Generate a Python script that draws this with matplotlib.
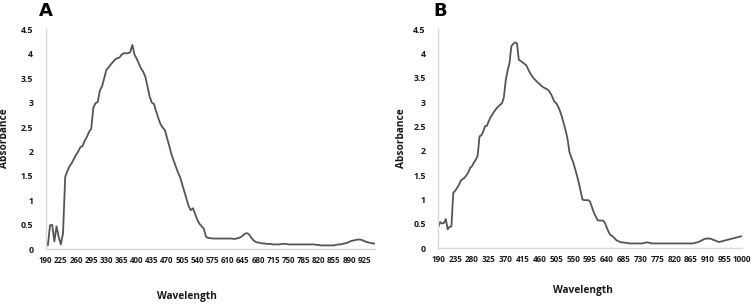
import numpy as np
import matplotlib
matplotlib.use("Agg")
import matplotlib.pyplot as plt

# ---------------- Data ----------------
wavelength_a = list(range(190, 955, 5))
absorbance_a = [
    0.19, 0.08, 0.49, 0.50, 0.16, 0.47, 0.25, 0.10, 0.33, 1.48,   # 190-235
    1.60, 1.70, 1.76, 1.85, 1.93, 2.00, 2.09, 2.11, 2.22, 2.30,   # 240-285
    2.40, 2.46, 2.90, 2.99, 3.01, 3.25, 3.33, 3.50, 3.67, 3.72,   # 290-335
    3.78, 3.83, 3.88, 3.91, 3.92, 3.98, 4.01, 4.01, 4.01, 4.03,   # 340-385
    4.18, 3.98, 3.90, 3.80, 3.70, 3.63, 3.53, 3.33, 3.12, 3.00,   # 390-435
    2.97, 2.82, 2.68, 2.56, 2.49, 2.44, 2.28, 2.12, 1.95, 1.82,   # 440-485
    1.70, 1.58, 1.48, 1.33, 1.18, 1.03, 0.88, 0.80, 0.84, 0.72,   # 490-535
    0.60, 0.52, 0.47, 0.42, 0.26, 0.23, 0.23, 0.22, 0.22, 0.22,   # 540-585
    0.22, 0.22, 0.22, 0.22, 0.22, 0.22, 0.22, 0.21, 0.22, 0.23,   # 590-635
    0.25, 0.28, 0.32, 0.33, 0.30, 0.23, 0.18, 0.15, 0.14, 0.13,   # 640-685
    0.12, 0.12, 0.11, 0.11, 0.11, 0.10, 0.10, 0.10, 0.10, 0.11,   # 690-735
    0.11, 0.11, 0.10, 0.10, 0.10, 0.10, 0.10, 0.10, 0.10, 0.10,   # 740-785
    0.10, 0.10, 0.10, 0.10, 0.10, 0.09, 0.09, 0.08, 0.08, 0.08,   # 790-835
    0.08, 0.08, 0.08, 0.08, 0.09, 0.10, 0.10, 0.11, 0.12, 0.13,   # 840-885
    0.15, 0.17, 0.18, 0.19, 0.20, 0.20, 0.19, 0.17, 0.15, 0.14,   # 890-935
    0.13, 0.12, 0.12,                                             # 940-950
]

wavelength_b = list(range(190, 1005, 5))
absorbance_b = [
    0.44, 0.54, 0.51, 0.52, 0.60, 0.39, 0.44, 0.45, 1.14, 1.18,   # 190-235
    1.24, 1.30, 1.39, 1.42, 1.45, 1.50, 1.56, 1.65, 1.69, 1.76,   # 240-285
    1.82, 1.90, 2.30, 2.32, 2.40, 2.51, 2.52, 2.62, 2.70, 2.76,   # 290-335
    2.82, 2.87, 2.91, 2.95, 2.98, 3.10, 3.45, 3.65, 3.80, 4.15,   # 340-385
    4.20, 4.23, 4.21, 3.87, 3.85, 3.82, 3.79, 3.76, 3.68, 3.60,   # 390-435
    3.54, 3.49, 3.45, 3.41, 3.38, 3.34, 3.31, 3.29, 3.27, 3.24,   # 440-485
    3.18, 3.10, 3.01, 2.98, 2.91, 2.82, 2.70, 2.56, 2.42, 2.25,   # 490-535
    1.98, 1.87, 1.77, 1.64, 1.50, 1.35, 1.18, 1.00, 0.99, 0.99,   # 540-585
    0.99, 0.96, 0.85, 0.74, 0.66, 0.58, 0.57, 0.57, 0.57, 0.52,   # 590-635
    0.42, 0.33, 0.27, 0.25, 0.21, 0.17, 0.15, 0.13, 0.12, 0.12,   # 640-685
    0.11, 0.11, 0.10, 0.10, 0.10, 0.10, 0.10, 0.10, 0.10, 0.10,   # 690-735
    0.11, 0.12, 0.12, 0.11, 0.10, 0.10, 0.10, 0.10, 0.10, 0.10,   # 740-785
    0.10, 0.10, 0.10, 0.10, 0.10, 0.10, 0.10, 0.10, 0.10, 0.10,   # 790-835
    0.10, 0.10, 0.10, 0.10, 0.10, 0.10, 0.10, 0.11, 0.12, 0.13,   # 840-885
    0.15, 0.17, 0.19, 0.20, 0.20, 0.20, 0.19, 0.17, 0.16, 0.14,   # 890-935
    0.13, 0.14, 0.15, 0.16, 0.17, 0.18, 0.19, 0.20, 0.21, 0.22,   # 940-985
    0.23, 0.24, 0.25,                                             # 990-1000
]

xticks_a = list(range(190, 960, 35))
xticks_b = list(range(190, 1005, 45))
yticks = [0, 0.5, 1, 1.5, 2, 2.5, 3, 3.5, 4, 4.5]
ytick_labels = ["0", "0.5", "1", "1.5", "2", "2.5", "3", "3.5", "4", "4.5"]

assert len(wavelength_a) == len(absorbance_a)
assert len(wavelength_b) == len(absorbance_b)

# ---------------- Plot ----------------
plt.rcParams['font.family'] = ['Open Sans', 'DejaVu Sans']
W, H = 752, 304
fig = plt.figure(figsize=(W / 100, H / 100), dpi=100)

line_color = "#555555"
spine_color = "#d9d9d9"
text_color = "#1a1a1a"


def style(ax, xt, xfs):
    for s in ["top", "right"]:
        ax.spines[s].set_visible(False)
    for s in ["left", "bottom"]:
        ax.spines[s].set_color(spine_color)
        ax.spines[s].set_linewidth(1.0)
    ax.set_ylim(0, 4.5)
    ax.set_yticks(yticks)
    ax.set_yticklabels(ytick_labels, fontsize=6.3, fontweight="bold", color=text_color)
    ax.set_xticks(xt)
    ax.set_xticklabels([str(v) for v in xt], fontsize=xfs, fontweight="bold", color=text_color)
    ax.tick_params(axis="both", length=0)
    ax.tick_params(axis="y", pad=9)
    ax.tick_params(axis="x", pad=5)


def px(x0, y0, x1, y1):
    return [x0 / W, 1 - y1 / H, (x1 - x0) / W, (y1 - y0) / H]


axA = fig.add_axes(px(45.7, 29.3, 375, 249.3))
axA.plot(wavelength_a, absorbance_a, color=line_color, lw=1.3)
axA.set_xlim(190, 950)
style(axA, xticks_a, 5.7)

axB = fig.add_axes(px(438.3, 29.3, 741.7, 248.3))
axB.plot(wavelength_b, absorbance_b, color=line_color, lw=1.3)
axB.set_xlim(190, 1000)
style(axB, xticks_b, 5.9)

# Panel letters
fig.text(39 / W, 1 - 16 / H, "A", fontsize=13, fontweight="heavy",
         family="DejaVu Sans", ha="left", va="baseline")
fig.text(433 / W, 1 - 16 / H, "B", fontsize=13, fontweight="heavy",
         family="DejaVu Sans", ha="left", va="baseline")

# Axis titles
fig.text(5 / W, 1 - 138 / H, "Absorbance", rotation=90, fontsize=7.3,
         fontweight="bold", ha="center", va="center", color=text_color)
fig.text(401 / W, 1 - 138 / H, "Absorbance", rotation=90, fontsize=7.3,
         fontweight="bold", ha="center", va="center", color=text_color)
fig.text(187 / W, 1 - 297 / H, "Wavelength", fontsize=7.3,
         fontweight="bold", ha="center", va="center", color=text_color)
fig.text(583 / W, 1 - 290 / H, "Wavelength", fontsize=7.3,
         fontweight="bold", ha="center", va="center", color=text_color)

fig.savefig("out.png", dpi=100, facecolor="white")
